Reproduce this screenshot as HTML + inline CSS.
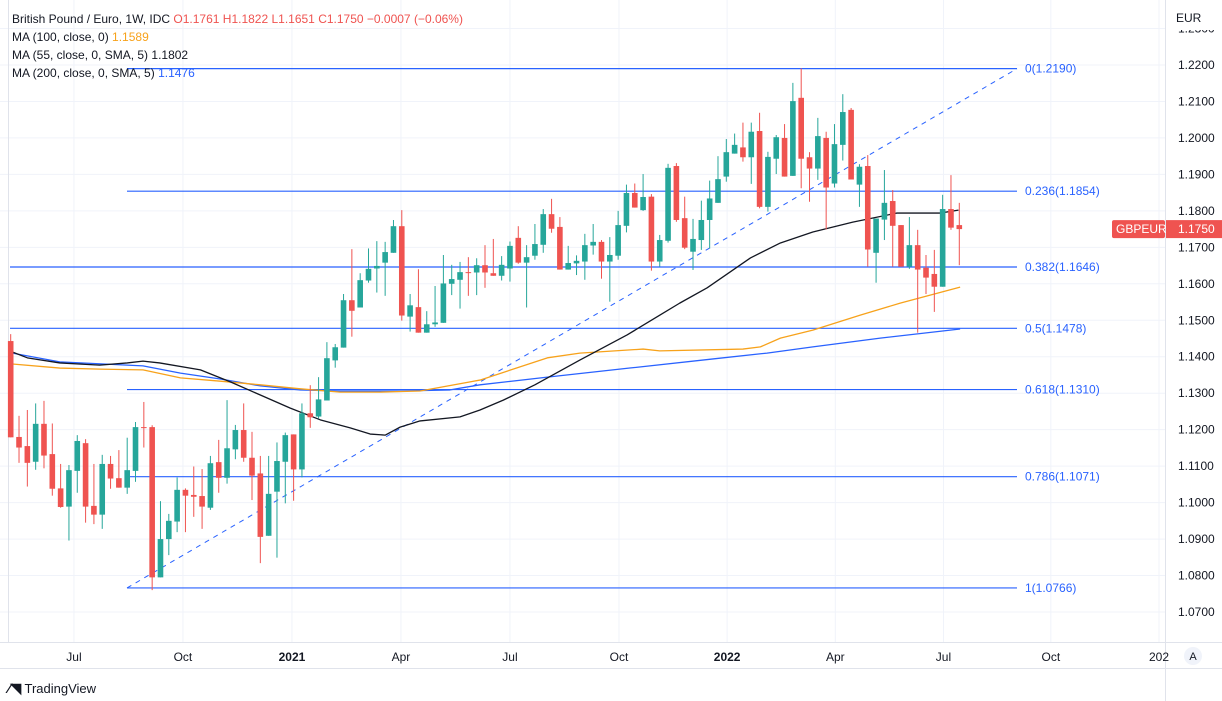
<!DOCTYPE html>
<html><head><meta charset="utf-8">
<style>
body{margin:0;background:#fff;font-family:"Liberation Sans",sans-serif;}
#wrap{position:relative;width:1222px;height:701px;overflow:hidden;background:#fff;}
.leg{position:absolute;left:12px;font-size:12px;color:#131722;white-space:nowrap;}
</style></head><body>
<div id="wrap">
<svg id="chart" width="1222" height="701" style="position:absolute;left:0;top:0"></svg>
<div class="leg" style="top:12px">British Pound / Euro, 1W, IDC <span style="color:#ef5350">O1.1761 H1.1822 L1.1651 C1.1750 −0.0007 (−0.06%)</span></div>
<div class="leg" style="top:30px">MA (100, close, 0) <span style="color:#f7a21b">1.1589</span></div>
<div class="leg" style="top:48px">MA (55, close, 0, SMA, 5) <span style="color:#131722">1.1802</span></div>
<div class="leg" style="top:66px">MA (200, close, 0, SMA, 5) <span style="color:#2962ff">1.1476</span></div>
<div style="position:absolute;left:8px;top:680px;font-size:13px;color:#131722"><b style="font-size:14px">⁄◥</b> TradingView</div>
</div>
<script>
const opens=[1.1443,1.1180,1.1155,1.1112,1.1216,1.1133,1.1039,1.0989,1.1087,1.1163,1.0991,1.0967,1.1106,1.1067,1.1041,1.1087,1.1207,1.1207,1.0795,1.0900,1.0948,1.1035,1.1021,1.1018,1.0986,1.1111,1.1068,1.1146,1.1199,1.1123,1.1080,1.0909,1.1030,1.1112,1.1187,1.1091,1.1245,1.1236,1.1280,1.1390,1.1425,1.1555,1.1535,1.1609,1.1642,1.1658,1.1685,1.1758,1.1510,1.1536,1.1466,1.1489,1.1493,1.1600,1.1611,1.1632,1.1631,1.1651,1.1629,1.1622,1.1642,1.1726,1.1658,1.1677,1.1707,1.1791,1.1756,1.1639,1.1656,1.1661,1.1705,1.1715,1.1661,1.1677,1.1759,1.1849,1.1802,1.1839,1.1661,1.1718,1.1923,1.1780,1.1688,1.1720,1.1775,1.1822,1.1894,1.1957,1.1974,1.1947,1.2019,1.1811,1.1943,1.2000,1.1896,1.2110,1.1947,1.1916,1.2000,1.1875,1.1981,1.2077,1.1872,1.1923,1.1685,1.1776,1.1827,1.1761,1.1647,1.1706,1.1644,1.1627,1.1592,1.1805,1.1761];
const highs=[1.1462,1.1238,1.1254,1.1272,1.1279,1.1217,1.1106,1.1103,1.1185,1.1174,1.1106,1.1131,1.1128,1.1144,1.1178,1.1221,1.1276,1.1212,1.1004,1.0969,1.1069,1.1039,1.1099,1.1092,1.1128,1.1172,1.1281,1.1213,1.1272,1.1194,1.1128,1.1128,1.1165,1.1192,1.1187,1.1272,1.1322,1.1344,1.1440,1.1435,1.1572,1.1695,1.1629,1.1697,1.1717,1.1715,1.1775,1.1802,1.1572,1.1640,1.1525,1.1594,1.1679,1.1652,1.1660,1.1673,1.1670,1.1706,1.1723,1.1676,1.1716,1.1758,1.1706,1.1764,1.1805,1.1833,1.1783,1.1704,1.1678,1.1737,1.1764,1.1720,1.1728,1.1800,1.1872,1.1875,1.1901,1.1846,1.1734,1.1929,1.1931,1.1839,1.1778,1.1828,1.1883,1.1950,1.1997,1.2012,1.2042,1.2042,1.2069,1.1962,1.2008,1.2038,1.2151,1.2191,1.1961,1.2055,1.2017,1.2038,1.2120,1.2082,1.1928,1.1953,1.1779,1.1912,1.1857,1.1761,1.1783,1.1748,1.1679,1.1693,1.1844,1.1898,1.1822];
const lows=[1.1179,1.1109,1.1044,1.1090,1.1094,1.1019,1.0986,1.0896,1.1027,1.0945,1.0941,1.0928,1.1038,1.1041,1.1024,1.1057,1.1151,1.0760,1.0795,1.0856,1.0919,1.0919,1.0961,1.0928,1.0980,1.1027,1.1052,1.1119,1.1112,1.1007,1.0834,1.0909,1.0849,1.0998,1.1005,1.1069,1.1205,1.1231,1.1280,1.1370,1.1425,1.1455,1.1535,1.1603,1.1576,1.1567,1.1685,1.1499,1.1469,1.1466,1.1466,1.1482,1.1493,1.1569,1.1532,1.1567,1.1569,1.1589,1.1622,1.1609,1.1606,1.1655,1.1535,1.1666,1.1685,1.1740,1.1639,1.1639,1.1624,1.1611,1.1680,1.1614,1.1551,1.1666,1.1741,1.1809,1.1800,1.1636,1.1647,1.1713,1.1770,1.1695,1.1638,1.1693,1.1697,1.1822,1.1880,1.1957,1.1935,1.1874,1.1807,1.1798,1.1901,1.1894,1.1896,1.1862,1.1825,1.1885,1.1749,1.1864,1.1938,1.1886,1.1811,1.1647,1.1603,1.1720,1.1647,1.1647,1.1641,1.1466,1.1572,1.1523,1.1592,1.1748,1.1651];
const closes=[1.1179,1.1151,1.1109,1.1216,1.1129,1.1038,1.0988,1.1089,1.1169,1.0989,1.0967,1.1106,1.1066,1.1041,1.1089,1.1207,1.1206,1.0795,1.0900,1.0950,1.1035,1.1019,1.1016,1.0989,1.1108,1.1068,1.1149,1.1199,1.1123,1.1074,1.0906,1.1024,1.1114,1.1185,1.1091,1.1245,1.1234,1.1283,1.1396,1.1426,1.1555,1.1526,1.1610,1.1641,1.1649,1.1687,1.1758,1.1513,1.1541,1.1466,1.1489,1.1494,1.1601,1.1613,1.1632,1.1631,1.1651,1.1631,1.1622,1.1652,1.1704,1.1658,1.1673,1.1709,1.1791,1.1751,1.1639,1.1657,1.1663,1.1706,1.1715,1.1661,1.1679,1.1761,1.1849,1.1809,1.1838,1.1661,1.1720,1.1918,1.1775,1.1699,1.1723,1.1775,1.1834,1.1887,1.1961,1.1981,1.1947,1.2017,1.1811,1.1948,1.2002,1.1894,1.2101,1.1943,1.1916,1.2005,1.1864,1.1983,1.2071,1.1886,1.1921,1.1694,1.1779,1.1822,1.1759,1.1647,1.1706,1.1639,1.1617,1.1592,1.1805,1.1754,1.1750];
const ma55Idx=[0.2,2.0,5.9,10.7,14.0,15.9,17.9,22.8,26.4,30.0,33.6,37.2,40.8,43.2,45.0,46.8,49.2,54.0,56.4,59.2,63.0,68.4,74.1,78.0,80.4,83.7,88.9,92.5,96.4,101.2,106.5,111.7,113.9];
const ma55=[1.1413,1.1397,1.1383,1.1377,1.1383,1.1388,1.1383,1.1364,1.1331,1.1295,1.1259,1.1227,1.1205,1.1188,1.1185,1.1207,1.1224,1.1235,1.1254,1.1281,1.1323,1.1391,1.1460,1.1514,1.1547,1.1589,1.1671,1.1712,1.1742,1.1769,1.1794,1.1794,1.1802];
const ma100Idx=[0.2,5.9,10.7,15.9,20.4,25.2,30.0,34.8,39.6,44.4,49.2,56.4,64.5,68.4,76.0,78.0,88.0,90.1,92.5,96.4,102.1,106.9,114.1];
const ma100=[1.1380,1.1369,1.1366,1.1364,1.1342,1.1333,1.1323,1.1312,1.1303,1.1303,1.1306,1.1336,1.1397,1.1410,1.1421,1.1416,1.1421,1.1427,1.1451,1.1473,1.1514,1.1547,1.1591];
const ma200Idx=[0.2,5.9,14.0,15.9,20.4,25.2,30.0,34.8,39.6,46.8,52.8,56.4,64.5,74.4,84.4,90.9,96.4,104.5,114.1];
const ma200=[1.1410,1.1386,1.1377,1.1375,1.1355,1.1339,1.1320,1.1309,1.1306,1.1306,1.1309,1.1323,1.1344,1.1369,1.1394,1.1410,1.1427,1.1451,1.1476];
const fibLevels=["0","0.236","0.382","0.5","0.618","0.786","1"];
const fibValues=[1.2190,1.1854,1.1646,1.1478,1.1310,1.1071,1.0766];
const priceTicks=[1.07,1.08,1.09,1.10,1.11,1.12,1.13,1.14,1.15,1.16,1.17,1.18,1.19,1.20,1.21,1.22,1.23];
const timeLabels=["Jul","Oct","2021","Apr","Jul","Oct","2022","Apr","Jul","Oct","202"];
const timeIdx=[7.6,20.7,33.8,46.9,60,73.1,86.1,99.1,112.1,125,138];
const lastPrice=1.1750;

const NS="http://www.w3.org/2000/svg";
const svg=document.getElementById('chart');
const Y=v=>65+(1.22-v)*3646.7;
const X=i=>10.7+i*8.321;
function el(t,a,p){const e=document.createElementNS(NS,t);for(const k in a)e.setAttribute(k,a[k]);(p||svg).appendChild(e);return e;}
priceTicks.forEach(v=>{const g=el('line',{x1:0,x2:1165,y1:Y(v),y2:Y(v),stroke:'#f0f3fa'});

});
timeIdx.forEach(i=>{const g=el('line',{x1:X(i),x2:X(i),y1:0,y2:642,stroke:'#f0f3fa'});

});
el('line',{x1:1165.5,x2:1165.5,y1:0,y2:701,stroke:'#e0e3eb'});
el('line',{x1:0,x2:1222,y1:642.5,y2:642.5,stroke:'#e0e3eb'});
el('line',{x1:0,x2:1222,y1:668.5,y2:668.5,stroke:'#e0e3eb'});
el('line',{x1:8.5,x2:8.5,y1:0,y2:642,stroke:'#e0e3eb'});
fibValues.forEach((v,k)=>{const x1=(fibLevels[k]==="0.382"||fibLevels[k]==="0.5")?10:127;
const l=el('line',{x1:x1,x2:1017,y1:Y(v),y2:Y(v),stroke:'#2962ff','stroke-width':1.2});


const t=el('text',{x:1025,y:Y(v)+4,'font-size':12,fill:'#2962ff','font-family':'Liberation Sans'});
t.textContent=fibLevels[k]+'('+fibValues[k].toFixed(4)+')';

});
const tl=el('line',{x1:127,y1:Y(fibValues[6]),x2:1017,y2:Y(fibValues[0]),stroke:'#2962ff','stroke-width':1,'stroke-dasharray':'5,5'});


function ma(idx,vals,col,name){const p=el('polyline',{points:idx.map((i,k)=>X(i)+','+Y(vals[k])).join(' '),fill:'none',stroke:col,'stroke-width':1.3,'stroke-linejoin':'round'});

}
ma(ma200Idx,ma200,'#2962ff','ma200-line');
ma(ma100Idx,ma100,'#f7a21b','ma100-line');
ma(ma55Idx,ma55,'#131722','ma55-line');
opens.forEach((o,i)=>{const c=closes[i],up=c>=o,col=up?'#26a69a':'#ef5350',x=X(i);
const w=el('line',{x1:x,x2:x,y1:Y(highs[i]),y2:Y(lows[i]),stroke:col,'stroke-width':1});


const top=Y(Math.max(o,c)),h=Math.max(1,Y(Math.min(o,c))-top);
const b=el('rect',{x:x-2.8,y:top,width:5.6,height:h,fill:col});

});
priceTicks.forEach(v=>{const t=el('text',{x:1178,y:Y(v)+4,'font-size':12,fill:'#131722','font-family':'Liberation Sans'});t.textContent=v.toFixed(4);

});
timeLabels.forEach((s,k)=>{const t=el('text',{x:X(timeIdx[k]),y:661,'font-size':12,fill:'#131722','text-anchor':'middle','font-family':'Liberation Sans','font-weight':(s==='2021'||s==='2022')?'bold':'normal'});t.textContent=s;

});
el('rect',{x:1166,y:0,width:56,height:30,fill:'#fff'});
const eu=el('text',{x:1176,y:22,'font-size':12,fill:'#131722','font-family':'Liberation Sans'});eu.textContent='EUR';


const ty=Y(lastPrice);
el('rect',{x:1112,y:ty-9,width:53,height:18,fill:'#ef5350',rx:2});
el('rect',{x:1166,y:ty-9,width:56,height:18,fill:'#ef5350'});
const t1=el('text',{x:1116,y:ty+4,'font-size':12,fill:'#fff','font-family':'Liberation Sans'});t1.textContent='GBPEUR';


const t2=el('text',{x:1178,y:ty+4,'font-size':12,fill:'#fff','font-family':'Liberation Sans'});t2.textContent=lastPrice.toFixed(4);


const ac=el('circle',{cx:1193,cy:656,r:9,fill:'#f0f3fa'});


const at=el('text',{x:1193,y:660,'font-size':11,fill:'#131722','text-anchor':'middle','font-family':'Liberation Sans'});at.textContent='A';
</script>
</body></html>
